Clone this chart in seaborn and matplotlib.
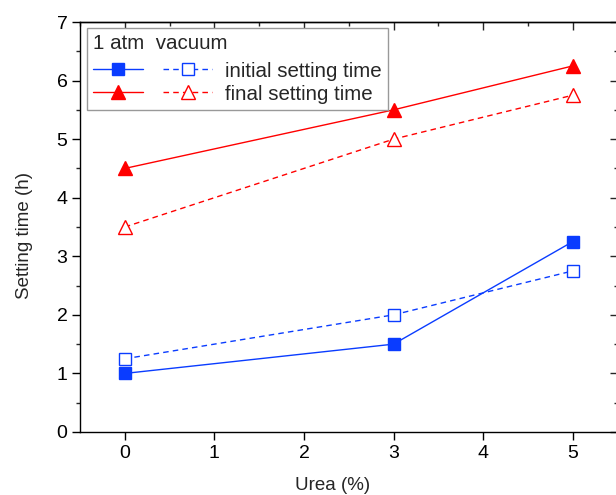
import matplotlib
matplotlib.use("Agg")
import matplotlib.pyplot as plt
from matplotlib.ticker import MultipleLocator
from matplotlib.legend_handler import HandlerTuple
import seaborn as sns

# Urea content (%) and setting times (h)
urea = [0, 3, 5]
initial_atm = [1.0, 1.5, 3.25]
initial_vac = [1.25, 2.0, 2.75]
final_atm = [4.5, 5.5, 6.25]
final_vac = [3.5, 5.0, 5.75]

x_ticks = [0, 1, 2, 3, 4, 5]
y_ticks = [0, 1, 2, 3, 4, 5, 6, 7]

sns.set_theme(style="ticks")
plt.rcParams["font.family"] = ["Liberation Sans", "DejaVu Sans"]
plt.rcParams["axes.linewidth"] = 1.0

BLUE = "#0a3cff"
RED = "#ff0000"

fig = plt.figure(figsize=(6.16, 4.95), dpi=100)
ax = fig.add_axes([80 / 616, 63 / 495, 537.5 / 616, 410 / 495])

series = [
    (initial_atm, BLUE, "s", "-", BLUE, 8),
    (initial_vac, BLUE, "s", "--", "white", 8),
    (final_atm, RED, "^", "-", RED, 10),
    (final_vac, RED, "^", "--", "white", 10),
]
lines = []
for vals, col, mk, ls, face, ms in series:
    sns.lineplot(x=urea, y=vals, ax=ax, color=col, marker=mk, linestyle=ls,
                 markerfacecolor=face, markeredgecolor=col, markersize=ms,
                 markeredgewidth=1.0, linewidth=1.0, legend=False)
    ln = ax.lines[-1]
    if ls == "--":
        ln.set_dashes((4, 3))
    lines.append(ln)

ax.set_xlim(-0.5, 5.5)
ax.set_ylim(0, 7)
ax.set_xticks(x_ticks)
ax.set_yticks(y_ticks)
ax.yaxis.set_minor_locator(MultipleLocator(0.5))
ax.tick_params(axis="both", which="major", direction="out", length=6, width=1,
               labelsize=14, colors="black", pad=3)
ax.tick_params(axis="y", which="minor", direction="out", length=3, width=1)
ax.set_xlabel("Urea (%)", fontsize=13.5)
ax.set_ylabel("Setting time (h)", fontsize=13.5)
ax.xaxis.set_label_coords(0.469, -0.11)
ax.yaxis.set_label_coords(-0.088, 0.48)
for s in ax.spines.values():
    s.set_visible(True)
    s.set_color("black")
    s.set_linewidth(1.0)

# inward ticks along the top and right frame
top = ax.secondary_xaxis("top")
top.set_xticks(x_ticks)
top.xaxis.set_minor_locator(MultipleLocator(0.5))
top.tick_params(which="major", direction="in", length=6, width=1, labeltop=False)
top.tick_params(which="minor", direction="in", length=3, width=1)
top.set_xticklabels([])
right = ax.secondary_yaxis("right")
right.set_yticks(y_ticks)
right.yaxis.set_minor_locator(MultipleLocator(0.5))
right.tick_params(which="major", direction="in", length=6, width=1, labelright=False)
right.tick_params(which="minor", direction="in", length=3, width=1)
right.set_yticklabels([])

handles = [(lines[0], lines[1]), (lines[2], lines[3])]
labels = ["initial setting time", "final setting time"]
leg = ax.legend(handles, labels, title="1 atm  vacuum",
                handler_map={tuple: HandlerTuple(ndivide=None, pad=1.0)},
                loc="upper left", bbox_to_anchor=(7 / 537.5, (432 - 28) / 410),
                borderaxespad=0, handlelength=5.8, handletextpad=0.6,
                fontsize=14.8, title_fontsize=14.8, alignment="left",
                fancybox=False, framealpha=1, edgecolor="#999999",
                labelspacing=0.2, borderpad=0.3)
leg._legend_box.sep = 6
leg.get_frame().set_linewidth(1.0)

fig.savefig("out.png", dpi=100)
